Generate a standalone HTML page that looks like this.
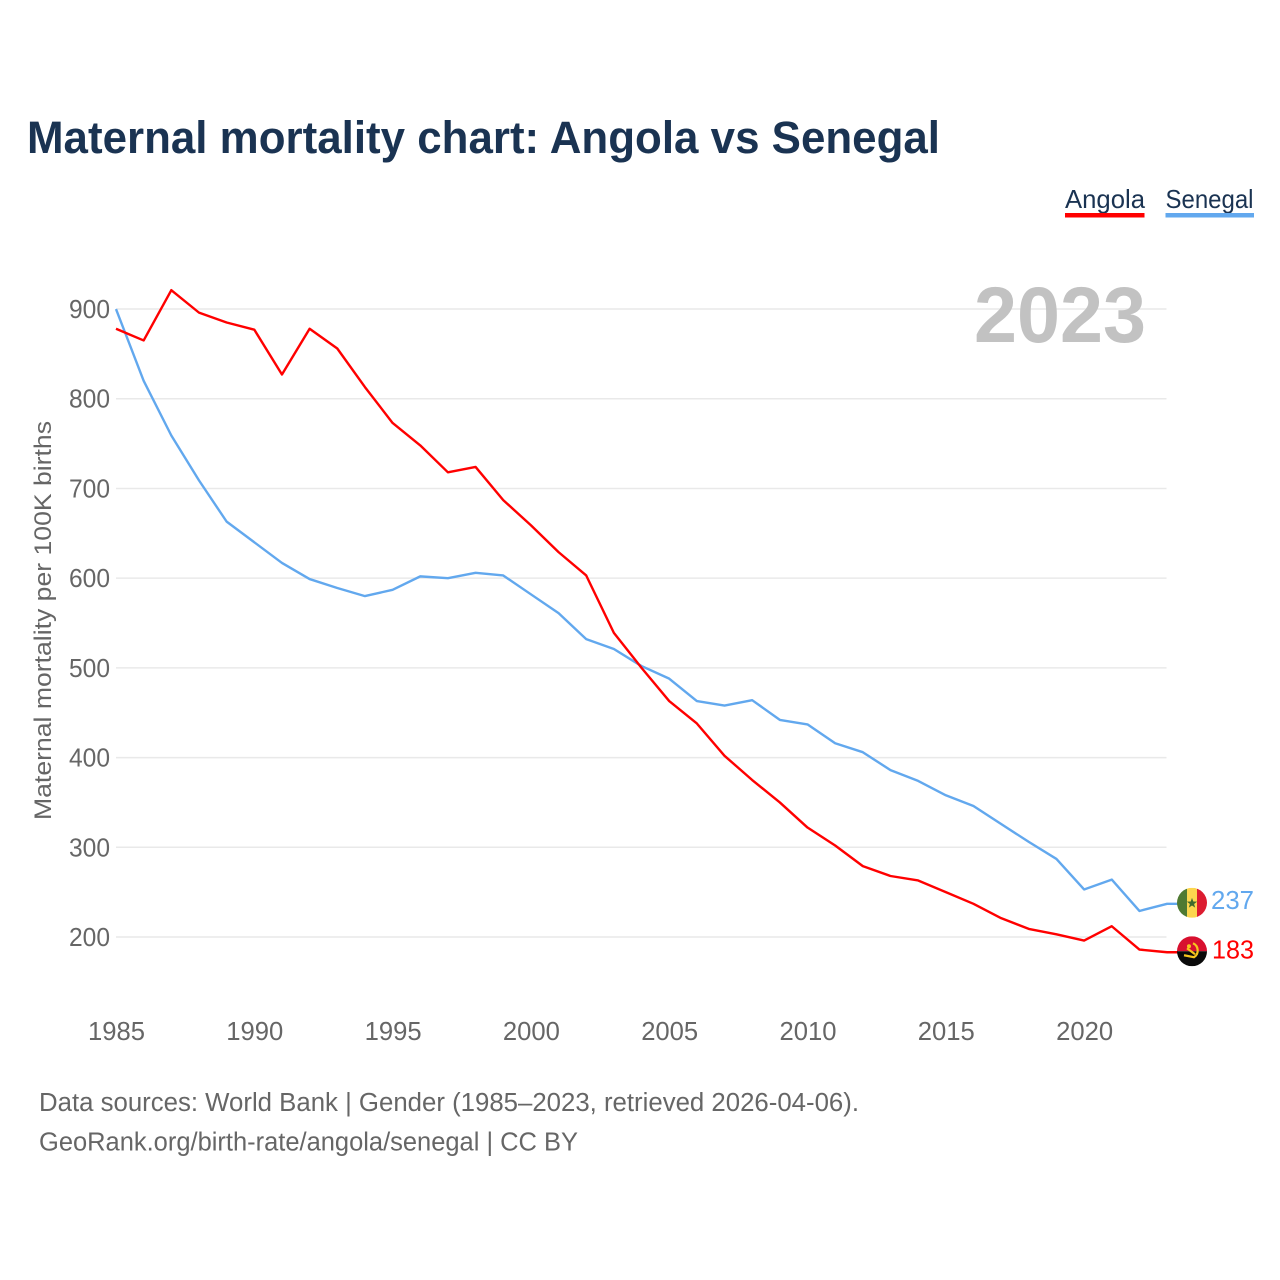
<!DOCTYPE html>
<html lang="en">
<head>
<meta charset="utf-8">
<title>Maternal mortality chart: Angola vs Senegal</title>
<style>
html,body{margin:0;padding:0;background:#fff;width:1280px;height:1280px;overflow:hidden}
svg{display:block}
text{font-family:"Liberation Sans",sans-serif}
</style>
</head>
<body>
<svg id="chart" xmlns="http://www.w3.org/2000/svg" width="1280" height="1280" viewBox="0 0 1280 1280">
<rect width="1280" height="1280" fill="#fff"/>
<text x="27" y="153" font-size="45" font-weight="700" fill="#1a3352" textLength="913" lengthAdjust="spacingAndGlyphs">Maternal mortality chart: Angola vs Senegal</text>
<g>
<text x="1065" y="208" font-size="26" fill="#1a3352" textLength="80" lengthAdjust="spacingAndGlyphs">Angola</text>
<rect x="1065" y="213" width="79.500" height="4.500" fill="#ff0000"/>
</g>
<g>
<text x="1165.500" y="208" font-size="26" fill="#1a3352" textLength="88" lengthAdjust="spacingAndGlyphs">Senegal</text>
<rect x="1165.500" y="213" width="88.500" height="4.500" fill="#62a8ee"/>
</g>
<text transform="translate(51 820) rotate(-90)" font-size="24.500" fill="#666" textLength="399" lengthAdjust="spacingAndGlyphs">Maternal mortality per 100K births</text>
<g id="grid"></g>
<g id="ytick"></g>
<g id="xtick"></g>
<text id="year" x="1146" y="342" font-size="79" font-weight="700" fill="#c2c2c2" text-anchor="end" textLength="172" lengthAdjust="spacingAndGlyphs"></text>
<g id="series"></g>
<defs>
<clipPath id="clip-sn"><circle id="cp-sn" r="15"/></clipPath>
<clipPath id="clip-ao"><circle id="cp-ao" r="15"/></clipPath>
</defs>
<g id="flag-sn" clip-path="url(#clip-sn)"></g>
<g id="flag-ao" clip-path="url(#clip-ao)"></g>
<text id="val-sn" x="1211" font-size="26" fill="#62a8ee" textLength="43" lengthAdjust="spacingAndGlyphs"></text>
<text id="val-ao" x="1212" font-size="26" fill="#ff0000" textLength="42" lengthAdjust="spacingAndGlyphs"></text>
<text x="39" y="1111" font-size="25.500" fill="#666" textLength="820" lengthAdjust="spacingAndGlyphs">Data sources: World Bank | Gender (1985–2023, retrieved 2026-04-06).</text>
<text x="39" y="1150.500" font-size="25.500" fill="#666" textLength="539" lengthAdjust="spacingAndGlyphs">GeoRank.org/birth-rate/angola/senegal | CC BY</text>
</svg>
<script>
const years = [1985,1986,1987,1988,1989,1990,1991,1992,1993,1994,1995,1996,1997,1998,1999,2000,2001,2002,2003,2004,2005,2006,2007,2008,2009,2010,2011,2012,2013,2014,2015,2016,2017,2018,2019,2020,2021,2022,2023];
const angola = [878,865,921,896,885,877,827,878,856,813,773,748,718,724,687,659,629,603,539,500,463,438,402,375,350,322,302,279,268,263,250,237,221,209,203,196,212,186,183];
const senegal = [900,820,759,709,663,640,617,599,589,580,587,602,600,606,603,582,561,532,521,502,488,463,458,464,442,437,416,406,386,374,358,346,326,306,287,253,264,229,237];
const yTicks = [200,300,400,500,600,700,800,900];
const xTicks = [1985,1990,1995,2000,2005,2010,2015,2020];

const NS = 'http://www.w3.org/2000/svg';
const xScale = function (v) { return 116 + (v - 1985) * 27.66; };
const yScale = function (v) { return 937 - (v - 200) * 0.8971; };
function make(tag, parent, attrs) {
  const el = document.createElementNS(NS, tag);
  Object.keys(attrs).forEach(function (k) { el.setAttribute(k, attrs[k]); });
  parent.appendChild(el);
  return el;
}
const grid = document.getElementById('grid');
const ytick = document.getElementById('ytick');
const xtick = document.getElementById('xtick');
yTicks.forEach(function (t) {
  const line = make('line', grid, {x1: 116, x2: 1166.5, y1: yScale(t), y2: yScale(t), stroke: '#e9e9e9', 'stroke-width': 1.5});
  
  
  const label = make('text', ytick, {x: 110, y: yScale(t) + 9, 'font-size': 26, fill: '#666', 'text-anchor': 'end', textLength: 41, lengthAdjust: 'spacingAndGlyphs'});
  
  
  label.textContent = t;
});
xTicks.forEach(function (t) {
  const label = make('text', xtick, {x: xScale(t) + 0.5, y: 1040, 'font-size': 26, fill: '#666', 'text-anchor': 'middle', textLength: 57, lengthAdjust: 'spacingAndGlyphs'});
  
  
  label.textContent = t;
});
document.getElementById('year').textContent = years[years.length - 1];

const seriesGroup = document.getElementById('series');
function drawSeries(values, color) {
  const d = values.map(function (v, i) {
    return (i ? 'L' : 'M') + xScale(years[i]).toFixed(2) + ' ' + yScale(v).toFixed(2);
  }).join(' ');
  const last = yScale(values[values.length - 1]);
  return make('path', seriesGroup, {d: d + ' L1178 ' + last.toFixed(2), fill: 'none', stroke: color, 'stroke-width': 2.4, 'stroke-linejoin': 'round'});
}
const senegalLine = drawSeries(senegal, '#62a8ee');


const angolaLine = drawSeries(angola, '#ff0000');



const snY = yScale(senegal[senegal.length - 1]) - 1;
const aoY = yScale(angola[angola.length - 1]) - 1;
const cx = 1192;
document.getElementById('cp-sn').setAttribute('cx', cx);
document.getElementById('cp-sn').setAttribute('cy', snY);
document.getElementById('cp-ao').setAttribute('cx', cx);
document.getElementById('cp-ao').setAttribute('cy', aoY);

const fs = document.getElementById('flag-sn');
make('rect', fs, {x: cx - 15, y: snY - 15, width: 10, height: 30, fill: '#4f7a32'});
make('rect', fs, {x: cx - 5, y: snY - 15, width: 10, height: 30, fill: '#fcd64e'});
make('rect', fs, {x: cx + 5, y: snY - 15, width: 10, height: 30, fill: '#dc1c30'});
const star = [];
for (let i = 0; i < 10; i++) {
  const r = i % 2 ? 2.2 : 5.4;
  const a = -Math.PI / 2 + i * Math.PI / 5;
  star.push((cx + r * Math.cos(a)).toFixed(2) + ',' + (snY + 0.5 + r * Math.sin(a)).toFixed(2));
}
make('polygon', fs, {points: star.join(' '), fill: '#3f6a2c'});

const fa = document.getElementById('flag-ao');
make('rect', fa, {x: cx - 15, y: aoY - 15, width: 30, height: 15, fill: '#d8102f'});
make('rect', fa, {x: cx - 15, y: aoY, width: 30, height: 15, fill: '#0a0a0a'});
make('path', fa, {d: 'M' + (cx + 1) + ' ' + (aoY - 8) + ' a8 8 0 0 1 1 14 L' + (cx - 8) + ' ' + (aoY + 4), fill: 'none', stroke: '#f6c51d', 'stroke-width': 2.2});
make('path', fa, {d: 'M' + (cx - 5) + ' ' + (aoY - 3) + ' L' + (cx + 3) + ' ' + (aoY + 3), fill: 'none', stroke: '#f6c51d', 'stroke-width': 2.2});
make('circle', fa, {cx: cx - 3, cy: aoY - 5, r: 2, fill: '#f6c51d'});

const valSn = document.getElementById('val-sn');
valSn.setAttribute('y', snY + 6);
valSn.textContent = senegal[senegal.length - 1];
const valAo = document.getElementById('val-ao');
valAo.setAttribute('y', aoY + 7);
valAo.textContent = angola[angola.length - 1];
</script>
</body>
</html>
